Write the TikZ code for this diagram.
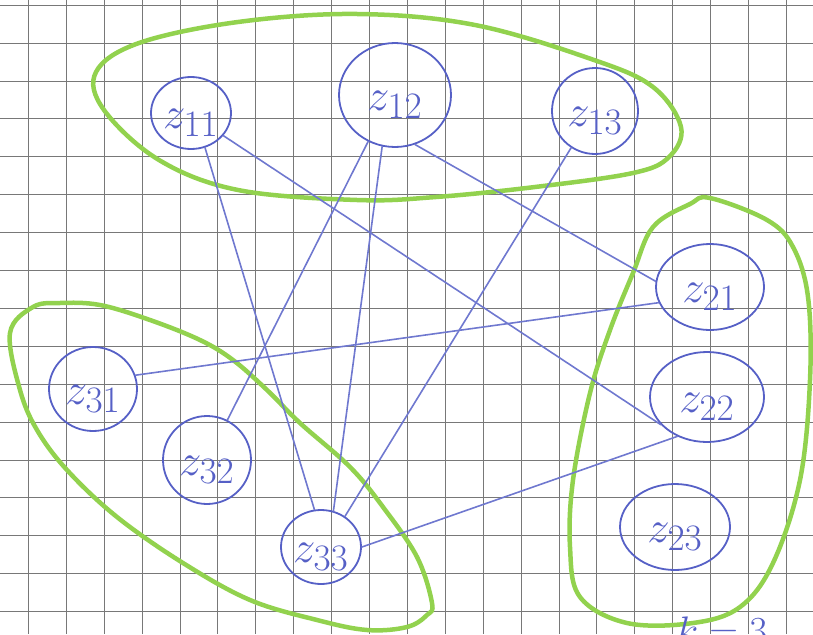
\documentclass[tikz,border=0pt]{standalone}
\usepackage{graphicx}
\usepackage{tikz}
\usetikzlibrary{shapes.geometric,calc}
\definecolor{pen}{RGB}{86,96,198}
\definecolor{marker}{RGB}{146,210,78}
\definecolor{paper}{RGB}{120,120,120}
\newcommand{\zlab}[1]{\scalebox{1.8}{$z_{#1}$}}
\tikzset{
  zvar/.style={ellipse, draw=pen, line width=1.8pt, inner sep=0pt,
    text=pen, font=\Huge,
    text height=36pt, text depth=6pt},
  cluster/.style={draw=marker, line width=4.5pt, line join=round},
  squares/.style={draw=paper, line width=0.7pt}}

\begin{document}
\begin{tikzpicture}[x=1pt, y=-1pt]

\tikzset{
link/.style={draw=pen!85, line width=1.6pt, line cap=round}
}

\useasboundingbox (0,0) rectangle (813,634);
\clip (0,0) rectangle (813,634);

%GRID
\foreach \i in {0,...,20}
  \draw[squares] ({28.3+37.9*\i},0) -- ++(0,634);
\foreach \j in {0,...,16}
  \draw[squares] (0,{5.1+37.9*\j}) -- ++(813,0);

%CLUSTER 1
\draw[cluster] plot[smooth cycle, tension=0.6] coordinates {
(96,72) (139,43) (238,22) (357,14) (475,25) (594,60) (653,87)
(681,127) (669,157) (633,173) (535,187) (436,197) (357,200)
(238,190) (159,160) (104,110)};

%CLUSTER 2
\draw[cluster] plot[smooth cycle, tension=0.6] coordinates {
(690,204) (710,198) (767,220) (793,247) (808,297) (810,380)
(800,480) (773,563) (740,607) (693,623) (627,623) (580,597)
(570,547) (573,480) (590,393) (610,330) (633,273) (653,227)};

%CLUSTER 3
\draw[cluster] plot[smooth cycle, tension=0.6] coordinates {
(10,333) (33,307) (60,303) (100,305) (150,320) (200,340) (233,360)
(267,390) (300,423) (350,467) (383,507) (417,557) (432,603)
(427,615) (407,627) (367,630) (317,620) (250,600) (183,563)
(117,517) (67,470) (37,430) (20,390)};

%VARIABLES
\node[zvar, minimum width=80pt, minimum height=72pt]
(z11) at (191,113) {\zlab{11}};
\node[zvar, minimum width=112pt, minimum height=104pt]
(z12) at (395,95) {\zlab{12}};
\node[zvar, minimum width=86pt, minimum height=86pt]
(z13) at (595,111) {\zlab{13}};

\node[zvar, minimum width=108pt, minimum height=86pt]
(z21) at (710,287) {\zlab{21}};
\node[zvar, minimum width=114pt, minimum height=90pt]
(z22) at (707,397) {\zlab{22}};
\node[zvar, minimum width=110pt, minimum height=86pt]
(z23) at (675,527) {\zlab{23}};

\node[zvar, minimum width=88pt, minimum height=84pt]
(z31) at (93,389) {\zlab{31}};
\node[zvar, minimum width=88pt, minimum height=88pt]
(z32) at (207,460) {\zlab{32}};
\node[zvar, minimum width=80pt, minimum height=74pt]
(z33) at (321,547) {\zlab{33}};

\node[text=pen, font=\Huge, anchor=base]
(kval) at (722,644) {\scalebox{1.6}{$k=3$}};

%LINKS
\draw[link] (z11.292) -- (z33.100);
\draw[link] (z11.-35) -- (z22.211);
\draw[link] (z12.240) -- (z32.63);
\draw[link] (z12.256) -- (z33.71);
\draw[link] (z12.292) -- (z21.174);
\draw[link] (z13.237) -- (z33.52);
\draw[link] (z31.18) -- (z21.197);
\draw[link] (z33.0) -- (z22.233);
\end{tikzpicture}
\end{document}
